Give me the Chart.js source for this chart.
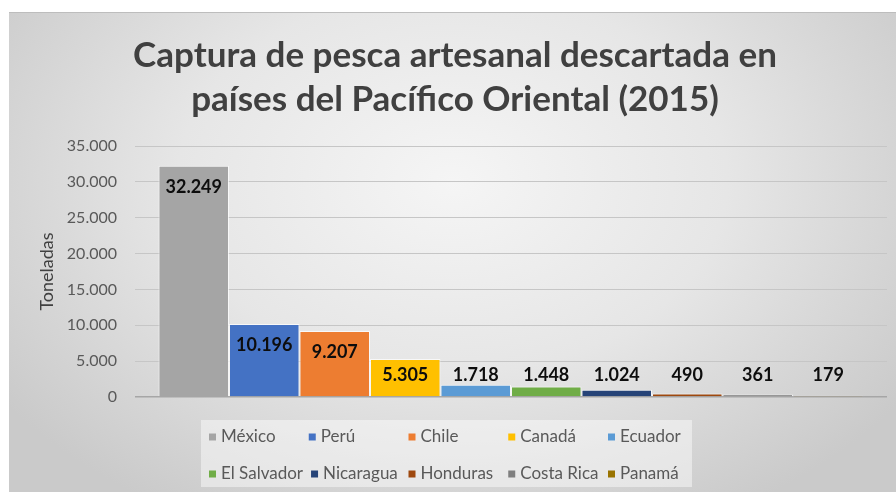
<!DOCTYPE html>
<html>
<head>
<meta charset="utf-8">
<script src="https://cdn.jsdelivr.net/npm/chart.js@4"></script>
<style>
  html, body { margin: 0; padding: 0; background: #fff; }
  #marco {
    position: absolute; left: 9px; top: 12px; width: 887px; height: 480px;
    background: radial-gradient(ellipse 62% 80% at 50% 35%, #f5f5f5 0%, #e6e6e6 50%, #cacaca 100%);
    border-top: 1px solid #bdbdbd;
    box-sizing: border-box;
  }
  canvas { display: block; }
</style>
</head>
<body>
<div id="marco"><canvas id="grafico" width="887" height="479"></canvas></div>
<script>
// Datos (toneladas, 2015)
const paises = ['México', 'Perú', 'Chile', 'Canadá', 'Ecuador', 'El Salvador', 'Nicaragua', 'Honduras', 'Costa Rica', 'Panamá'];
const toneladas = [32249, 10196, 9207, 5305, 1718, 1448, 1024, 490, 361, 179];
const colores = ['#a5a5a5', '#4472c4', '#ed7d31', '#ffc000', '#5b9bd5', '#70ad47', '#264478', '#9e480e', '#7f7f7f', '#997300'];
const ticksY = [0, 5000, 10000, 15000, 20000, 25000, 30000, 35000];

// formato con punto de miles
function miles(v) {
  return String(v).replace(/\B(?=(\d{3})+(?!\d))/g, '.');
}

// etiquetas de datos sobre las barras
const etiquetasPlugin = {
  id: 'etiquetas',
  afterDatasetsDraw(chart) {
    const ctx = chart.ctx;
    ctx.save();
    ctx.font = 'bold 18px Lato, "Noto Sans", sans-serif';
    ctx.fillStyle = '#0d0d0d';
    ctx.textAlign = 'center';
    ctx.textBaseline = 'middle';
    chart.data.datasets.forEach((ds, i) => {
      const bar = chart.getDatasetMeta(i).data[0];
      const y = Math.min(bar.y + 21, bar.base - 21);
      ctx.fillText(miles(ds.data[0]), bar.x, y);
    });
    ctx.restore();
  }
};

// leyenda tipo Excel (rejilla de 5 columnas)
const leyendaPlugin = {
  id: 'leyendaExcel',
  afterDraw(chart) {
    const ctx = chart.ctx;
    const x0 = 200, paso = 99.75, filaY = [424, 461], cols = 5;
    ctx.save();
    ctx.fillStyle = 'rgba(255,255,255,0.45)';
    ctx.fillRect(192, 407, 491, 67);
    ctx.font = '17px Lato, "Noto Sans", sans-serif';
    ctx.textBaseline = 'middle';
    let fin = 0;
    chart.data.datasets.forEach((ds, i) => {
      const col = i % cols, fila = Math.floor(i / cols);
      if (col === 0) fin = -Infinity;
      const x = Math.max(x0 + col * paso, fin + 8);
      const y = filaY[fila];
      ctx.fillStyle = ds.backgroundColor;
      ctx.fillRect(x, y - 3.5, 7, 7);
      ctx.fillStyle = '#595959';
      ctx.fillText(ds.label, x + 12, y);
      fin = x + 12 + ctx.measureText(ds.label).width;
    });
    ctx.restore();
  }
};

const datasets = paises.map((p, i) => ({
  label: p,
  data: [toneladas[i]],
  backgroundColor: colores[i],
  borderColor: 'rgba(255,255,255,0.7)',
  borderWidth: 1
}));

new Chart(document.getElementById('grafico').getContext('2d'), {
  type: 'bar',
  data: { labels: ['2015'], datasets },
  options: {
    responsive: false,
    animation: false,
    categoryPercentage: 0.9375,
    barPercentage: 1,
    layout: { padding: { left: 14, right: 9, top: 0, bottom: 95 } },
    scales: {
      x: { display: false },
      y: {
        min: 0, max: 35000,
        afterBuildTicks: s => { s.ticks = ticksY.map(v => ({ value: v })); },
        afterFit: s => { s.width = 112; },
        grid: {
          drawTicks: false,
          color: c => c.tick && c.tick.value === 0 ? '#a6a6a6' : '#c6c6c6',
          lineWidth: c => c.tick && c.tick.value === 0 ? 1.5 : 1
        },
        border: { display: false },
        ticks: {
          padding: 18,
          color: '#595959',
          font: { family: 'Lato, "Noto Sans", sans-serif', size: 16 },
          callback: v => miles(v)
        },
        title: {
          display: true,
          text: 'Toneladas',
          color: '#404040',
          font: { family: 'Lato, "Noto Sans", sans-serif', size: 18 },
          padding: { top: 13, bottom: 0 }
        }
      }
    },
    plugins: {
      legend: { display: false },
      tooltip: { enabled: false },
      title: {
        display: true,
        text: ['Captura de pesca artesanal descartada en', 'países del Pacífico Oriental (2015)'],
        color: '#404040',
        font: { family: 'Lato, "Noto Sans", sans-serif', size: 35, weight: 'bold', lineHeight: '44px' },
        padding: { top: 21, bottom: 24 }
      }
    }
  },
  plugins: [etiquetasPlugin, leyendaPlugin]
});
</script>
</body>
</html>
